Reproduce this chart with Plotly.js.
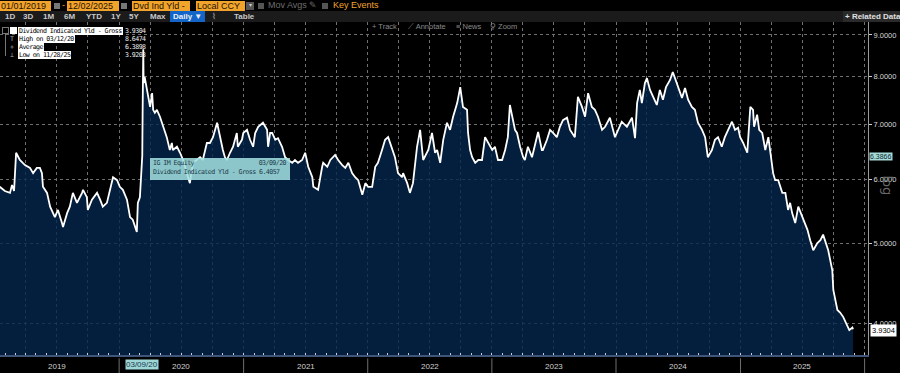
<!DOCTYPE html>
<html><head><meta charset="utf-8">
<script src="https://cdn.plot.ly/plotly-3.0.1.min.js"></script>
<style>
body{margin:0;background:#000;width:900px;height:373px;overflow:hidden;position:relative;font-family:"Liberation Sans",Arial,sans-serif;}
#chart{position:absolute;left:0;top:0;width:900px;height:373px;}
.abs{position:absolute;white-space:nowrap;line-height:1;}
.ob{background:#f2a32c;color:#1e1200;font-size:9px;height:10px;line-height:10px;padding:0 1px;top:1px;box-sizing:border-box;overflow:hidden;}
.tb{color:#c8c8c8;font-size:8px;font-weight:bold;top:13px;}
.tr{color:#8a8a8a;font-size:7.5px;top:23px;}
.lg{font-family:"DejaVu Sans Mono",monospace;font-size:6.6px;letter-spacing:-0.55px;line-height:8px;height:8px;}
.wb{background:#fff;color:#000;padding:0 1px;}
</style></head>
<body>
<div id="chart"></div>
<script>
const dates = ["2019-01-15","2019-01-30","2019-02-14","2019-02-20","2019-02-26","2019-03-04","2019-03-15","2019-03-30","2019-04-14","2019-04-23","2019-05-04","2019-05-13","2019-05-19","2019-05-22","2019-06-03","2019-06-12","2019-06-26","2019-07-05","2019-07-17","2019-07-20","2019-08-01","2019-08-09","2019-08-18","2019-08-30","2019-09-14","2019-09-17","2019-09-28","2019-10-01","2019-10-13","2019-10-28","2019-11-06","2019-11-14","2019-11-26","2019-12-05","2019-12-14","2019-12-26",
"2020-01-03","2020-01-12","2020-01-24","2020-02-02","2020-02-10","2020-02-22","2020-02-25","2020-03-02","2020-03-09","2020-03-10","2020-03-11","2020-03-12","2020-03-13","2020-03-16","2020-03-23","2020-03-26","2020-04-01","2020-04-07","2020-04-10","2020-04-15","2020-04-21","2020-04-30","2020-05-09","2020-05-20","2020-05-29","2020-06-04","2020-06-07","2020-06-19","2020-06-28","2020-07-07","2020-07-18","2020-07-27","2020-08-05","2020-08-17","2020-08-26","2020-09-03","2020-09-15","2020-09-24","2020-10-03","2020-10-15","2020-10-23","2020-11-01","2020-11-07","2020-11-13","2020-11-22","2020-12-01","2020-12-12","2020-12-15","2020-12-27","2020-12-31",
"2021-01-11","2021-01-20","2021-01-29","2021-02-04","2021-02-13","2021-02-19","2021-02-27","2021-03-11","2021-03-14","2021-03-20","2021-03-26","2021-04-04","2021-04-12","2021-04-24","2021-05-03","2021-05-12","2021-05-24","2021-06-01","2021-06-10","2021-06-22","2021-07-01","2021-07-10","2021-07-22","2021-07-25","2021-08-08","2021-08-20","2021-08-23","2021-09-04","2021-09-13","2021-09-27","2021-10-06","2021-10-18","2021-10-27","2021-11-05","2021-11-16","2021-11-25","2021-12-04","2021-12-16","2021-12-25",
"2022-01-02","2022-01-14","2022-01-23","2022-01-31","2022-02-12","2022-02-21","2022-03-02","2022-03-14","2022-03-22","2022-03-31","2022-04-12","2022-04-15","2022-04-27","2022-05-05","2022-05-14","2022-05-26","2022-06-04","2022-06-13","2022-06-25","2022-06-28","2022-07-09","2022-07-18","2022-07-24","2022-08-02","2022-08-11","2022-08-22","2022-08-31","2022-09-09","2022-09-21","2022-09-30","2022-10-08","2022-10-20","2022-10-23","2022-10-29","2022-11-04","2022-11-13","2022-11-22","2022-12-03","2022-12-12","2022-12-21",
"2023-01-02","2023-01-10","2023-01-19","2023-01-31","2023-02-09","2023-02-17","2023-02-23","2023-03-10","2023-03-16","2023-03-25","2023-04-03","2023-04-08","2023-04-17","2023-04-29","2023-05-08","2023-05-17","2023-05-28","2023-05-31","2023-06-12","2023-06-21","2023-06-30","2023-07-11","2023-07-20","2023-07-29","2023-08-10","2023-08-19","2023-08-25","2023-09-02","2023-09-11","2023-09-23","2023-10-02","2023-10-11","2023-10-22","2023-10-31","2023-11-09","2023-11-21","2023-11-30","2023-12-14","2023-12-29",
"2024-01-07","2024-01-18","2024-02-02","2024-02-17","2024-02-26","2024-03-03","2024-03-11","2024-03-17","2024-03-26","2024-04-01","2024-04-10","2024-04-19","2024-04-30","2024-05-09","2024-05-18","2024-05-27","2024-06-08","2024-06-16","2024-06-28","2024-07-01","2024-07-13","2024-07-22","2024-07-31","2024-08-11","2024-08-20","2024-08-29","2024-09-10","2024-09-19","2024-09-27","2024-10-09","2024-10-18","2024-10-27","2024-11-07","2024-11-16","2024-11-25","2024-12-07","2024-12-16","2024-12-25","2024-12-31",
"2025-01-09","2025-01-21","2025-01-30","2025-02-07","2025-02-10","2025-02-19","2025-02-25","2025-03-06","2025-03-15","2025-03-24","2025-04-04","2025-04-07","2025-04-13","2025-04-22","2025-05-04","2025-05-13","2025-05-21","2025-05-27","2025-06-02","2025-06-11","2025-06-20","2025-07-02","2025-07-08","2025-07-17","2025-07-25","2025-08-03","2025-08-15","2025-08-24","2025-09-01","2025-09-13","2025-09-16","2025-09-28","2025-10-01","2025-10-13","2025-10-21","2025-10-30","2025-11-11","2025-11-17","2025-11-26","2025-11-28","2025-12-01","2025-12-02"];
const yields = [5.87,5.80,5.77,5.90,5.80,6.46,6.33,6.24,6.19,6.10,6.19,6.19,6.10,5.87,5.77,5.55,5.39,5.50,5.30,5.24,5.45,5.55,5.77,5.61,5.77,5.82,5.70,5.50,5.66,5.77,5.66,5.55,5.61,5.82,6.03,5.98,
5.87,5.82,5.66,5.39,5.35,5.17,5.61,5.70,6.4057,7.20,7.90,8.6474,7.86,8.00,7.71,7.56,7.35,7.64,7.29,7.23,7.29,7.15,6.95,6.75,6.51,6.64,6.51,6.57,6.46,6.33,6.10,5.93,6.28,6.33,6.38,6.33,6.64,6.64,6.75,7.03,6.75,6.51,6.38,6.33,6.46,6.57,6.83,6.57,
6.70,6.83,6.89,6.70,6.57,6.83,6.95,6.99,7.03,6.89,6.57,6.83,6.83,6.70,6.73,6.57,6.38,6.33,6.28,6.33,6.28,6.33,6.46,6.21,6.03,5.87,5.82,6.21,6.28,6.21,6.33,6.42,6.33,6.24,6.19,6.28,6.10,6.03,5.98,
5.74,5.93,5.87,5.87,6.21,6.28,6.51,6.70,6.75,6.51,6.38,6.10,6.03,6.10,5.93,5.77,5.93,6.57,6.89,6.33,6.46,6.51,6.83,6.46,6.51,6.28,6.70,7.03,6.89,7.15,7.43,7.77,7.35,7.29,6.83,6.51,6.38,6.28,6.33,6.33,
6.75,6.64,6.51,6.57,6.33,6.33,6.51,6.75,7.39,6.89,6.83,6.57,6.38,6.33,6.57,6.38,6.64,6.85,6.51,6.51,6.70,6.89,6.83,6.75,6.95,7.08,7.13,6.89,6.83,6.75,7.56,7.35,7.15,7.64,7.35,7.29,7.15,6.89,6.95,
7.13,6.75,6.89,7.05,6.95,7.13,6.73,7.43,7.71,7.43,7.86,7.97,7.71,7.56,7.39,7.71,7.50,7.77,7.93,8.11,7.86,7.77,7.54,7.75,7.50,7.35,7.29,7.03,6.89,6.75,6.38,6.51,6.70,6.75,6.57,6.75,6.89,7.05,6.89,
6.93,6.75,6.64,6.46,7.35,7.29,6.95,7.19,6.89,6.83,6.51,6.75,6.28,6.10,5.98,5.98,5.77,5.77,5.50,5.61,5.45,5.30,5.55,5.39,5.30,5.20,5.05,4.91,5.01,5.05,5.13,4.95,4.91,4.64,4.39,4.15,4.12,4.07,3.96,3.9203,3.95,3.9304];
const yTicks = [4,5,6,7,8,9];
const yTickText = ["4.0000","5.0000","6.0000","7.0000","8.0000","9.0000"];
const yearLabels = ["2019","2020","2021","2022","2023","2024","2025"];
const yearMids = ["2019-07-02","2020-07-02","2021-07-02","2022-07-02","2023-07-02","2024-07-02","2025-07-02"];
const yearStarts = ["2020-01-01","2021-01-01","2022-01-01","2023-01-01","2024-01-01","2025-01-01","2026-01-01"];
const lastValue = 3.9304;
const crossValue = 6.3866;

const trace = {
  x: dates, y: yields, type: 'scatter', mode: 'lines',
  line: {color: '#ffffff', width: 1.8},
  fill: 'tozeroy', fillcolor: 'rgba(5,38,78,0.8)',
  hoverinfo: 'skip'
};
const annotations = yearLabels.map((t,i)=>({
  x: yearMids[i], y: 0, xref:'x', yref:'paper', yanchor:'top', yshift:-5,
  text: t, showarrow:false, font:{family:'Liberation Sans, Arial', size:8, color:'#d0d0d0'}
}));
annotations.push({x:1, xref:'paper', y:Math.log10(crossValue), yref:'y', xanchor:'left', xshift:1,
  text: crossValue.toFixed(4), showarrow:false, bgcolor:'#a6dada', borderpad:0,
  font:{family:'Liberation Sans, Arial', size:7, color:'#0c2a30'}});
annotations.push({x:1, xref:'paper', y:Math.log10(lastValue), yref:'y', xanchor:'left', xshift:2, yshift:-1,
  text: lastValue.toFixed(4), showarrow:false, bgcolor:'#ffffff', borderpad:1,
  font:{family:'Liberation Sans, Arial', size:7.5, color:'#000'}});
annotations.push({x:1, xref:'paper', xanchor:'left', xshift:10, y:Math.log10(5.9), yref:'y',
  text:'log', textangle:90, showarrow:false, font:{family:'DejaVu Sans, Arial', size:13, color:'#6a6a6a'}});
annotations.push({x:'2020-03-09', xref:'x', y:0, yref:'paper', yanchor:'top', yshift:-4,
  text:'03/09/20', showarrow:false, bgcolor:'#9fd6d6', borderpad:0,
  font:{family:'Liberation Sans, Arial', size:8, color:'#1a3a50'}});

const shapes = yearStarts.map(d=>({type:'line', xref:'x', yref:'paper', x0:d, x1:d, y0:-0.01, y1:-0.06,
  line:{color:'#707070', width:1}}));

const layout = {
  width: 900, height: 373,
  margin: {l:0, r:32, t:22, b:18},
  paper_bgcolor: '#000', plot_bgcolor: '#000',
  showlegend: false,
  xaxis: {type:'date', range:['2019-01-15 16:00','2026-01-11'], showticklabels:false,
    dtick:'M3', tick0:'2019-01-01', showgrid:true, gridcolor:'#707070', griddash:'dot', gridwidth:1,
    ticks:'inside', ticklen:2, tickcolor:'#cfcfcf',
    minor:{dtick:'M1', ticks:'inside', ticklen:2, tickcolor:'#cfcfcf', showgrid:false},
    showline:true, linecolor:'#40557a', linewidth:2, zeroline:false, fixedrange:true},
  yaxis: {type:'log', side:'right', range:[0.56293, 0.97013], tickvals:yTicks, ticktext:yTickText,
    tickfont:{family:'Liberation Sans, Arial', size:7.5, color:'#d8d8d8'},
    ticks:'outside', ticklen:3, tickcolor:'#cfcfcf', showgrid:true, gridcolor:'#707070', griddash:'dot',
    showline:true, linecolor:'#9a9a9a', linewidth:1, zeroline:false, fixedrange:true},
  annotations: annotations, shapes: shapes
};
Plotly.newPlot('chart', [trace], layout, {displayModeBar:false, staticPlot:true});
</script>

<!-- toolbar -->
<div class="abs" style="left:0;top:0;width:900px;height:11px;background:#000;"></div>
<div class="abs" style="left:0;top:11px;width:900px;height:11px;background:#1b1b1b;"></div>
<div class="abs ob" style="left:0;width:51px;">01/01/2019</div>
<div class="abs" style="left:54px;top:3px;width:6px;height:6px;background:#777;"></div>
<div class="abs" style="left:62px;top:1px;color:#f2a32c;font-size:9px;">-</div>
<div class="abs ob" style="left:67px;width:52px;">12/02/2025</div>
<div class="abs" style="left:121px;top:3px;width:6px;height:6px;background:#777;"></div>
<div class="abs ob" style="left:132px;width:58px;">Dvd Ind Yld -</div>
<div class="abs ob" style="left:196px;width:49px;">Local CCY</div>
<div class="abs" style="left:246px;top:2px;width:8px;height:8px;background:#555;color:#ccc;font-size:6px;text-align:center;">▾</div>
<div class="abs" style="left:258px;top:3px;width:6px;height:6px;background:#555;"></div>
<div class="abs" style="left:268px;top:1px;color:#6e6e6e;font-size:9px;">Mov Avgs ✎</div>
<div class="abs" style="left:322px;top:3px;width:6px;height:6px;background:#555;"></div>
<div class="abs" style="left:333px;top:1px;color:#f2a32c;font-size:9px;">Key Events</div>

<div class="abs tb" style="left:5px;">1D</div>
<div class="abs tb" style="left:23px;">3D</div>
<div class="abs tb" style="left:43px;">1M</div>
<div class="abs tb" style="left:64px;">6M</div>
<div class="abs tb" style="left:86px;">YTD</div>
<div class="abs tb" style="left:111px;">1Y</div>
<div class="abs tb" style="left:129px;">5Y</div>
<div class="abs tb" style="left:150px;">Max</div>
<div class="abs tb" style="left:170px;top:11px;width:35px;height:11px;background:#1565c8;color:#e8eef8;padding-left:3px;box-sizing:border-box;line-height:11px;">Daily ▼</div>
<div class="abs tb" style="left:212px;color:#8a8a8a;">⌇</div>
<div class="abs tb" style="left:234px;">Table</div>
<div class="abs" style="left:843px;top:11px;width:57px;height:11px;background:#2a2a2a;color:#e0e0e0;font-size:8px;font-weight:bold;line-height:11px;padding-left:2px;box-sizing:border-box;">+ Related Data</div>

<div class="abs tr" style="left:372px;">+ Track</div>
<div class="abs tr" style="left:408px;">⟋ Annotate</div>
<div class="abs tr" style="left:456px;">≡ News</div>
<div class="abs tr" style="left:490px;">⚲ Zoom</div>

<!-- legend -->
<div class="abs" style="left:2px;top:27px;width:5px;height:5px;border:1px solid #777;"></div>
<div class="abs" style="left:10px;top:27px;width:7px;height:7px;background:#fff;"></div>
<div class="abs" style="left:5px;top:34px;width:1px;height:22px;background:#777;"></div>
<div class="abs lg wb" style="left:18px;top:27px;width:103px;">Dividend Indicated Yld - Gross</div>
<div class="abs lg" style="left:125px;top:27px;color:#eee;">3.9304</div>
<div class="abs lg" style="left:10px;top:35px;color:#aaa;">T</div>
<div class="abs lg wb" style="left:18px;top:35px;">High on 03/12/20</div>
<div class="abs lg" style="left:125px;top:35px;color:#eee;">8.6474</div>
<div class="abs lg" style="left:10px;top:43px;color:#aaa;">+</div>
<div class="abs lg wb" style="left:18px;top:43px;">Average</div>
<div class="abs lg" style="left:125px;top:43px;color:#eee;">6.3898</div>
<div class="abs lg" style="left:10px;top:51px;color:#aaa;">⊥</div>
<div class="abs lg wb" style="left:18px;top:51px;">Low on 11/28/25</div>
<div class="abs lg" style="left:125px;top:51px;color:#eee;">3.9203</div>

<!-- tooltip -->
<div class="abs lg" style="left:150px;top:158px;width:140px;height:22px;background:rgba(160,222,222,0.88);color:#1b3a4a;">
  <div class="abs" style="left:3px;top:2px;">IG IM Equity</div>
  <div class="abs" style="right:4px;top:2px;">03/09/20</div>
  <div class="abs" style="left:3px;top:11px;">Dividend Indicated Yld - Gross 6.4057</div>
</div>
</body></html>
